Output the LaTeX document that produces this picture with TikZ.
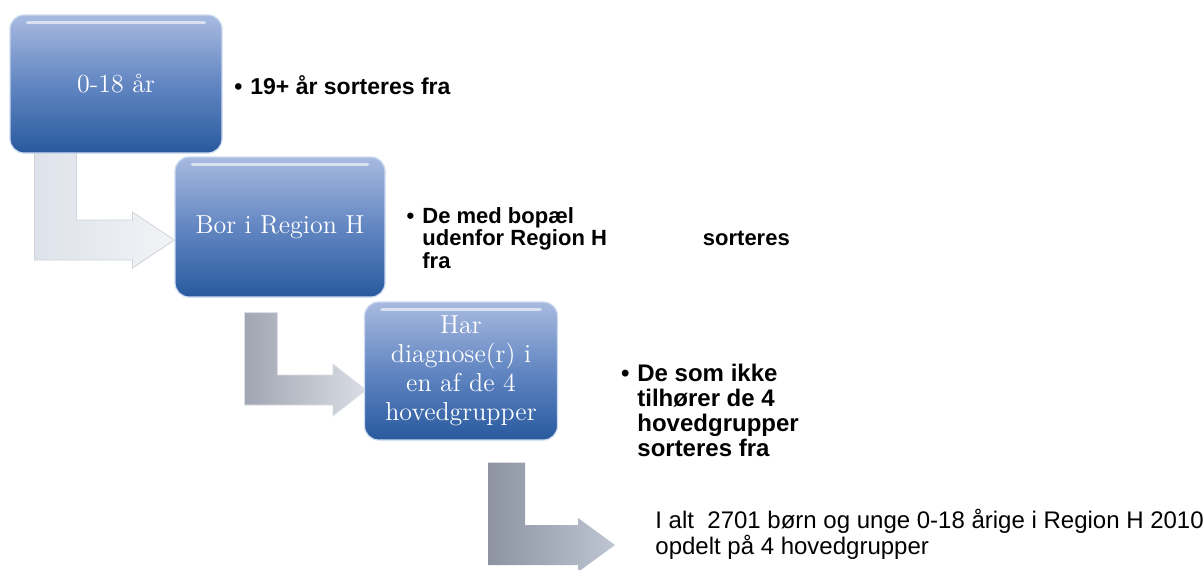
\documentclass[tikz,border=0pt]{standalone}
\usepackage{fontspec}
\setsansfont{Liberation Sans}
\usetikzlibrary{calc}
\definecolor{boxtop}{RGB}{168,186,224}
\definecolor{boxmid}{RGB}{98,134,194}
\definecolor{boxbot}{RGB}{40,90,158}
\definecolor{boxrim}{RGB}{205,218,240}
\definecolor{arrowlight}{RGB}{222,226,234}
\definecolor{arrowgreyl}{RGB}{160,166,178}
\definecolor{arrowgreyr}{RGB}{218,221,228}
\definecolor{arrowdarkl}{RGB}{141,147,160}
\definecolor{arrowdarkr}{RGB}{190,197,211}
\pgfdeclarelayer{background}
\pgfsetlayers{background,main}

% bent arrow: style, top-left of bar, tip, bar width, half arm, half head
\newcommand{\bentarrow}[6]{%
  \path[#1] let \p1=#2, \p2=#3 in
    (\x1,\y1) -- (\x1+#4,\y1) -- (\x1+#4,\y2+#5) -- (\x2-#4,\y2+#5)
    -- (\x2-#4,\y2+#6) -- (\x2,\y2) -- (\x2-#4,\y2-#6) -- (\x2-#4,\y2-#5)
    -- (\x1,\y2-#5) -- cycle;}

\begin{document}
\begin{tikzpicture}[x=0.5pt, y=-0.5pt,
  stage/.style={rectangle, rounded corners=7pt, draw=boxrim, line width=0.6pt,
    top color=boxtop, bottom color=boxbot, middle color=boxmid, text=white,
    font=\fontsize{13}{14.5}\selectfont, align=center, inner sep=2pt},
  note/.style={anchor=west, align=left, inner sep=0pt},
  gloss/.style={white, opacity=0.6, line width=1.8pt, line cap=round}]
\useasboundingbox (0,0) rectangle (1204,569);

% Stages
\node[stage, minimum width=106pt, minimum height=69pt] (age) at (116,84) {0-18 år};
\node[stage, minimum width=105pt, minimum height=70pt] (region) at (280,227) {Bor i Region H};
\node[stage, minimum width=96.5pt, minimum height=69pt] (diag) at (461,371) {Har\\diagnose(r) i\\en af de 4\\hovedgrupper};

% Gloss on top edge
\foreach \b in {age,region,diag}
  \draw[gloss] ([shift={(9pt,-4pt)}]\b.north west) -- ([shift={(-9pt,-4pt)}]\b.north east);

% What is sorted out
\node[note, font=\sffamily\bfseries\fontsize{11.5}{12}\selectfont] (agenote) at (250,85)
  {\llap{•\hspace{4pt}}19+ år sorteres fra};
\node[note, font=\sffamily\bfseries\fontsize{11}{10}\selectfont] (regionnote) at (422,238)
  {\llap{•\hspace{4pt}}De med bopæl\\udenfor Region H\hspace{48pt}sorteres\\fra};
\node[note, font=\sffamily\bfseries\fontsize{12}{12.5}\selectfont] (diagnote) at (637,410)
  {\llap{•\hspace{4pt}}De som ikke\\tilhører de 4\\hovedgrupper\\sorteres fra};

% Result
\node[note, font=\sffamily\fontsize{12}{12}\selectfont] (total) at (655,534)
  {I alt\ \ 2701 børn og unge 0-18 årige i Region H 2010\\opdelt på 4 hovedgrupper};

% Bent arrows
\begin{pgfonlayer}{background}
\bentarrow{left color=arrowlight, right color=arrowlight!40, draw=arrowlight!85!gray}
  {($(age.south west)+(25,-3)$)}{($(region.west)+(0,13)$)}{21pt}{10pt}{14pt}
\bentarrow{left color=arrowgreyl, right color=arrowgreyr, draw=arrowgreyr}
  {($(region.south west)+(70,15)$)}{($(diag.west)+(2,19)$)}{16.5pt}{7.5pt}{13pt}
\bentarrow{left color=arrowdarkl, right color=arrowdarkr}
  {($(diag.south)+(27,22)$)}{($(total.west)+(-40,11)$)}{18.5pt}{10pt}{13.5pt}
\end{pgfonlayer}
\end{tikzpicture}
\end{document}
